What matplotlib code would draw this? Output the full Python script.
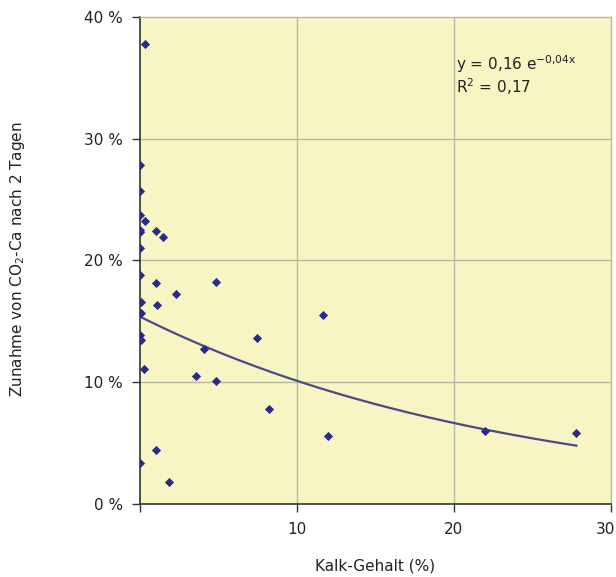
import numpy as np
import matplotlib
matplotlib.use("Agg")
import matplotlib.pyplot as plt
import matplotlib.transforms as mtransforms

plt.rcParams['font.family'] = ['DejaVu Sans']
plt.rcParams['mathtext.default'] = 'regular'

kalk = [0.35, 0.03, 0.0, 0.0, 0.35, 0.0, 0.0, 1.05, 1.48, 0.0,
        0.0, 1.05, 4.85, 2.3, 0.1, 1.1, 0.1, 0.0, 0.1, 4.1,
        0.3, 3.6, 4.85, 1.05, 0.0, 1.85, 7.45, 11.65, 8.24, 11.97,
        22.0, 27.8]
zunahme = [37.8, 27.8, 25.7, 23.7, 23.2, 22.5, 22.3, 22.4, 21.9, 21.0,
           18.8, 18.1, 18.2, 17.2, 16.6, 16.3, 15.7, 13.9, 13.5, 12.7,
           11.1, 10.5, 10.1, 4.4, 3.4, 1.8, 13.6, 15.5, 7.8, 5.6,
           6.0, 5.8]
fit_a = 15.4   # percent
fit_b = 0.042
x_ticks = [10, 20, 30]
y_ticks = [0, 10, 20, 30, 40]
y_labels = ['0 %', '10 %', '20 %', '30 %', '40 %']

fig = plt.figure(figsize=(6.16, 5.77), dpi=100)
ax = fig.add_axes([139.5/616, 1-504/577, (611-139.5)/616, (504-16.7)/577])
ax.set_facecolor('#f6f5c3')

grid_c = '#b9b8a0'
for v in x_ticks[:-1]:
    ax.axvline(v, color=grid_c, lw=1.0, zorder=1)
for v in y_ticks[1:-1]:
    ax.axhline(v, color=grid_c, lw=1.0, zorder=1)

xs = np.linspace(0, max(kalk), 200)
ax.plot(xs, fit_a*np.exp(-fit_b*xs), color='#4b4a82', lw=1.6, zorder=2)
ax.scatter(kalk, zunahme, marker='D', s=22, color='#2b2b86', zorder=3, linewidths=0)

ax.set_xlim(0, 30)
ax.set_ylim(0, 40)
ax.set_xticks([0] + x_ticks)
ax.set_xticklabels([''] + [str(v) for v in x_ticks])
ax.set_yticks(y_ticks)
ax.set_yticklabels(y_labels)
ax.tick_params(axis='both', direction='out', length=6, width=1, color='#333333',
               labelsize=11, labelcolor='#222222')
ax.tick_params(axis='x', pad=7)
ax.tick_params(axis='y', pad=6)
last = ax.get_xticklabels()[-1]
last.set_horizontalalignment('right')
last.set_transform(last.get_transform() +
                   mtransforms.ScaledTranslation(4/100, 0, fig.dpi_scale_trans))
for s in ['left', 'bottom']:
    ax.spines[s].set_color('#333333')
    ax.spines[s].set_linewidth(1.2)
for s in ['top', 'right']:
    ax.spines[s].set_color(grid_c)
    ax.spines[s].set_linewidth(1.0)

ax.text(0.672, 0.925, 'y = 0,16 e$^{-0{,}04x}$\nR$^{2}$ = 0,17', transform=ax.transAxes,
        fontsize=11, color='#222222', va='top', ha='left', linespacing=1.1)

fig.text(375/616, 1-566/577, 'Kalk-Gehalt (%)', ha='center', va='center', fontsize=11,
         color='#222222')
fig.text(18/616, 1-259/577, 'Zunahme von CO$_2$-Ca nach 2 Tagen', rotation=90,
         ha='center', va='center', fontsize=11, color='#222222')

fig.savefig('out.png', dpi=100, facecolor='white')
